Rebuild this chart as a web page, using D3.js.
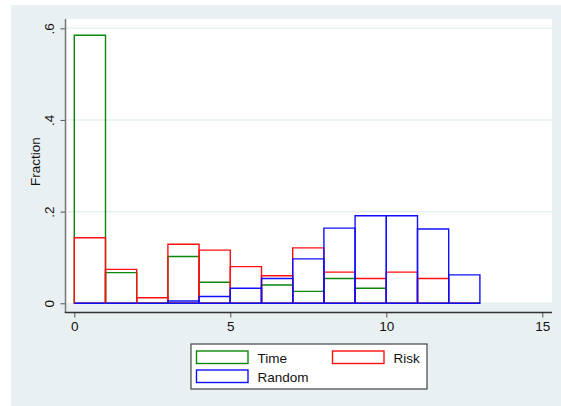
<!DOCTYPE html>
<html>
<head>
<meta charset="utf-8">
<script src="https://cdn.jsdelivr.net/npm/d3@7"></script>
<style>
  html, body { margin: 0; padding: 0; background: #ffffff; }
  svg { display: block; font-family: "Liberation Sans", Arial, sans-serif; }
</style>
</head>
<body>
<svg id="chart" width="561" height="406"></svg>
<script>
// Histogram bins: width 1, starting at 0
const binStarts = [0, 1, 2, 3, 4, 5, 6, 7, 8, 9, 10, 11, 12];

// Fraction of observations per bin for each treatment
const timeValues   = [0.585, 0.067, 0, 0.102, 0.046, 0, 0.040, 0.026, 0.054, 0.033, 0, 0, 0];
const riskValues   = [0.143, 0.074, 0.012, 0.129, 0.116, 0.080, 0.060, 0.121, 0.068, 0.054, 0.068, 0.054, 0];
const randomValues = [0, 0, 0, 0.005, 0.015, 0.033, 0.054, 0.097, 0.164, 0.191, 0.191, 0.162, 0.062];

const seriesNames = ["Time", "Risk", "Random"];
const xTickValues = [0, 5, 10, 15];
const yTickValues = [0, 0.2, 0.4, 0.6];
const yTickLabels = ["0", ".2", ".4", ".6"];

const colors = { Time: "#0a870a", Risk: "#ff1010", Random: "#1010ff" };

const svg = d3.select("#chart");

// Outer graph region
svg.append("rect")
  .attr("x", 11).attr("y", 5).attr("width", 550).attr("height", 401)
  .attr("fill", "#e9f0f2");

// Plot region
const plot = { left: 66.5, right: 552, top: 19, bottom: 304, axisY: 312.5, axisX: 65.5 };
svg.append("rect")
  .attr("x", plot.left).attr("y", plot.top)
  .attr("width", plot.right - plot.left).attr("height", plot.bottom - plot.top)
  .attr("fill", "#ffffff");

const x = d3.scaleLinear().domain([0, 15]).range([74.3, 542.3]);
const y = d3.scaleLinear().domain([0, 0.6]).range([303.3, 28.3]);

// Horizontal grid lines
svg.append("g")
  .selectAll("line")
  .data(yTickValues)
  .join("line")
  .attr("x1", plot.left).attr("x2", plot.right)
  .attr("y1", d => y(d)).attr("y2", d => y(d))
  .attr("stroke", "#e7f0f1")
  .attr("stroke-width", 1.5);

// Bars, drawn as outlines (empty bins still show their base edge)
const series = [
  { name: "Time", values: timeValues },
  { name: "Risk", values: riskValues },
  { name: "Random", values: randomValues }
];

const barPath = d => {
  const x0 = x(d.b), x1 = x(d.b + 1), y0 = y(0), y1 = y(d.v);
  return `M${x0},${y0}V${y1}H${x1}V${y0}Z`;
};

series.forEach(s => {
  svg.append("g")
    .selectAll("path")
    .data(binStarts.map((b, i) => ({ b, v: s.values[i] })))
    .join("path")
    .attr("d", barPath)
    .attr("fill", "none")
    .attr("stroke", colors[s.name])
    .attr("stroke-width", 1.4);
});

// Y axis
const yAxis = d3.axisLeft(y)
  .tickValues(yTickValues)
  .tickFormat((d, i) => yTickLabels[i])
  .tickSize(5)
  .tickPadding(0);

const gy = svg.append("g")
  .attr("transform", `translate(${plot.axisX},0)`)
  .call(yAxis);
gy.select(".domain").remove();
gy.selectAll(".tick line").attr("stroke", "#555").attr("stroke-width", 1);
gy.selectAll(".tick text")
  .attr("x", null).attr("dy", null)
  .attr("transform", "translate(-11.5,0) rotate(-90)")
  .attr("text-anchor", "middle")
  .attr("font-size", 13.5)
  .attr("font-family", "Liberation Sans, Arial, sans-serif")
  .attr("fill", "#111");

svg.append("line")
  .attr("x1", plot.axisX).attr("x2", plot.axisX)
  .attr("y1", plot.top).attr("y2", plot.axisY)
  .attr("stroke", "#777").attr("stroke-width", 1.5);

// X axis
const xAxis = d3.axisBottom(x)
  .tickValues(xTickValues)
  .tickFormat(d3.format("d"))
  .tickSize(5)
  .tickPadding(4);

const gx = svg.append("g")
  .attr("transform", `translate(0,${plot.axisY})`)
  .call(xAxis);
gx.select(".domain").remove();
gx.selectAll(".tick line").attr("stroke", "#555").attr("stroke-width", 1);
gx.selectAll(".tick text")
  .attr("font-size", 13.5)
  .attr("font-family", "Liberation Sans, Arial, sans-serif")
  .attr("fill", "#111");

svg.append("line")
  .attr("x1", plot.axisX - 0.75).attr("x2", plot.right)
  .attr("y1", plot.axisY).attr("y2", plot.axisY)
  .attr("stroke", "#333").attr("stroke-width", 1.3);

// Y axis title
svg.append("text")
  .attr("transform", `translate(40,${(plot.top + plot.bottom) / 2}) rotate(-90)`)
  .attr("text-anchor", "middle")
  .attr("font-size", 13.5)
  .attr("fill", "#111")
  .text("Fraction");

// Legend
const legend = svg.append("g");
legend.append("rect")
  .attr("x", 191).attr("y", 344).attr("width", 236).attr("height", 45)
  .attr("fill", "#ffffff").attr("stroke", "#444").attr("stroke-width", 1.2);

const legendItems = [
  { name: "Time", sx: 196.5, sy: 351, tx: 257.5, ty: 362.5 },
  { name: "Risk", sx: 332.5, sy: 351, tx: 393.5, ty: 362.5 },
  { name: "Random", sx: 196.5, sy: 370, tx: 257.5, ty: 382 }
];
legend.selectAll("rect.sw")
  .data(legendItems)
  .join("rect")
  .attr("class", "sw")
  .attr("x", d => d.sx).attr("y", d => d.sy)
  .attr("width", 51.5).attr("height", 12.5)
  .attr("fill", "#ffffff")
  .attr("stroke", d => colors[d.name])
  .attr("stroke-width", 1.4);
legend.selectAll("text")
  .data(legendItems)
  .join("text")
  .attr("x", d => d.tx).attr("y", d => d.ty)
  .attr("font-size", 13.5)
  .attr("fill", "#111")
  .text(d => d.name);
</script>
</body>
</html>
